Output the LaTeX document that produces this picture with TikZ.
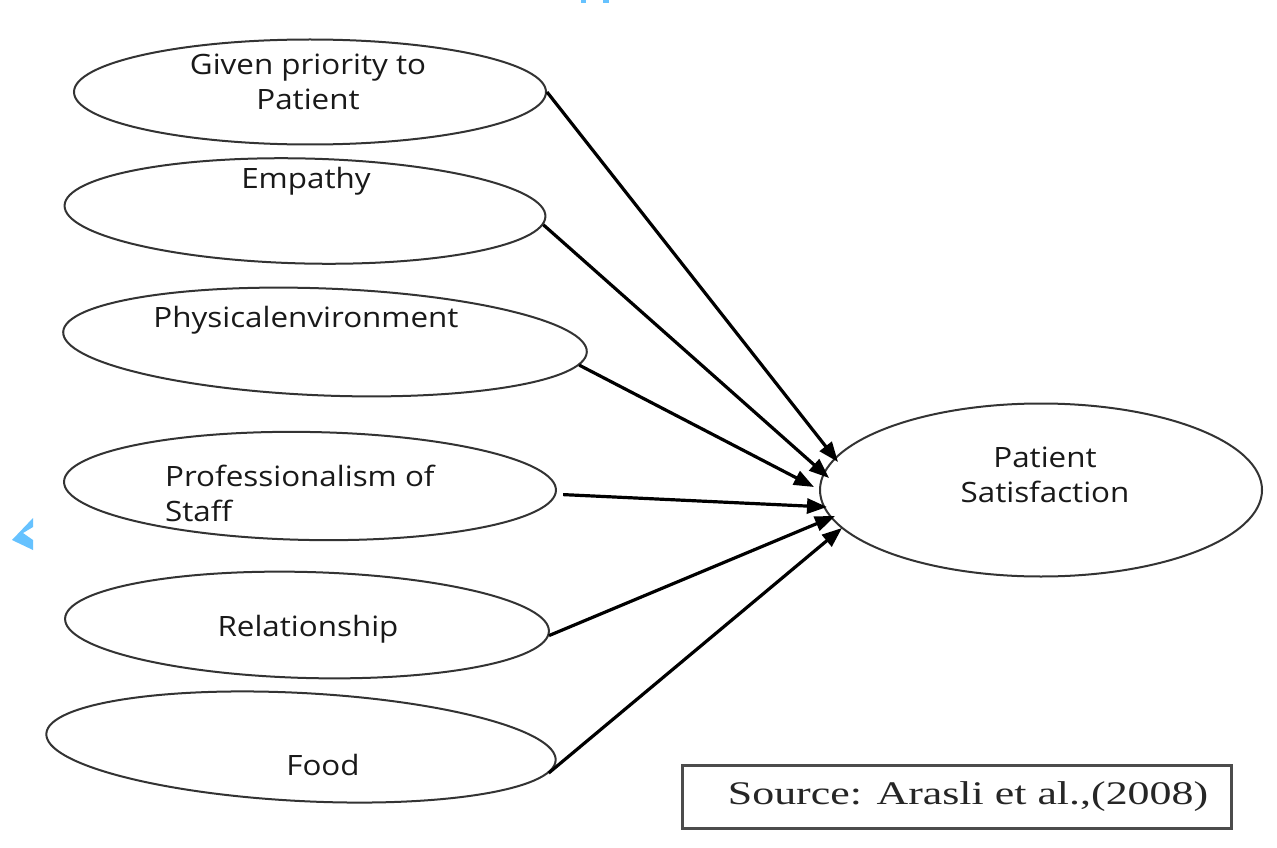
\documentclass[tikz,border=0pt]{standalone}
\usepackage{fontspec}
\usepackage{graphicx}
\setmainfont{Open Sans}
\newfontfamily\srcfont{Liberation Serif}
\usetikzlibrary{arrows.meta,shapes.geometric}

% horizontally widened, multi-line label text
\newcommand{\widetext}[2][c]{\scalebox{1.12}[1]{\begin{tabular}{@{}#1@{}}#2\end{tabular}}}

\tikzset{
  oval/.style={ellipse, draw=black!80, line width=2pt, inner sep=0pt},
  lbl/.style={font=\fontsize{28}{35}\selectfont, text=black!90, inner sep=0pt},
  link/.style={line width=3.2pt, -{Triangle[length=20pt,width=15pt]}},
  srcbox/.style={draw=black!70, line width=2.2pt, minimum width=549pt, minimum height=63pt, inner sep=0pt},
  bluemark/.style={fill=blue!40!cyan!60!white, draw=none}
}

\begin{document}
\begin{tikzpicture}[x=1pt,y=-1pt]
  \useasboundingbox[fill=white] (0,0) rectangle (1277,848);

  % factor ellipses (a little tilted, right end lower)
  \node[oval, minimum width=472pt, minimum height=105pt] (e1) at (310,92) {};
  \node[oval, minimum width=481pt, minimum height=105pt, rotate=-1.3] (e2) at (305,211) {};
  \node[oval, minimum width=524pt, minimum height=107pt, rotate=-2.2] (e3) at (325,342) {};
  \node[oval, minimum width=492pt, minimum height=108pt, rotate=-1] (e4) at (310,486) {};
  \node[oval, minimum width=484pt, minimum height=106pt, rotate=-1.5] (e5) at (307,625) {};
  \node[oval, minimum width=510pt, minimum height=108pt, rotate=-3] (e6) at (301,747) {};

  % outcome ellipse
  \node[oval, minimum width=442pt, minimum height=173pt] (ps) at (1041,490) {};

  % labels
  \node[lbl] (t1) at (308,85) {\widetext{Given priority to\\Patient}};
  \node[lbl] (t2) at (306,182) {\widetext{Empathy}};
  \node[lbl] (t3) at (306,320) {\widetext{Physicalenvironment}};
  \node[lbl, anchor=west] (t4) at (165,497) {\widetext[l]{Professionalism of\\Staff}};
  \node[lbl] (t5) at (308,629) {\widetext{Relationship}};
  \node[lbl] (t6) at (323,768) {\widetext{Food}};
  \node[lbl] (tps) at (1045,478) {\widetext{Patient\\Satisfaction}};

  % arrow tips at the outcome
  \coordinate (h1) at (838,462);
  \coordinate (h2) at (829,478);
  \coordinate (h3) at (814,487);
  \coordinate (h4) at (827,507);
  \coordinate (h5) at (835,516);
  \coordinate (h6) at (842,528);

  \draw[link] (e1.east) -- (h1);
  \draw[link] (e2.-2.5) -- (h2);
  \draw[link] (e3.-3) -- (h3);
  \draw[link] ([xshift=7pt]e4.-1) -- (h4);
  \draw[link] (e5.-1.5) -- (h5);
  \draw[link] (e6.-3) -- (h6);

  % source note
  \node[srcbox] (src) at (957,797) {};
  \node[font=\srcfont\fontsize{33}{40}\selectfont, text=black!85, inner sep=0pt] (srct) at (968,797)
    {\scalebox{1.33}[1]{Source: Arasli et al.,(2008)}};

  % small blue marks at the edges
  \path[bluemark] (33,518) -- (33,527) -- (23,533) -- (33,540) -- (33,550) -- (12,540) -- cycle;
  \path[bluemark] (581,0) rectangle (586,3);
  \path[bluemark] (603,0) rectangle (609,3);
\end{tikzpicture}
\end{document}
